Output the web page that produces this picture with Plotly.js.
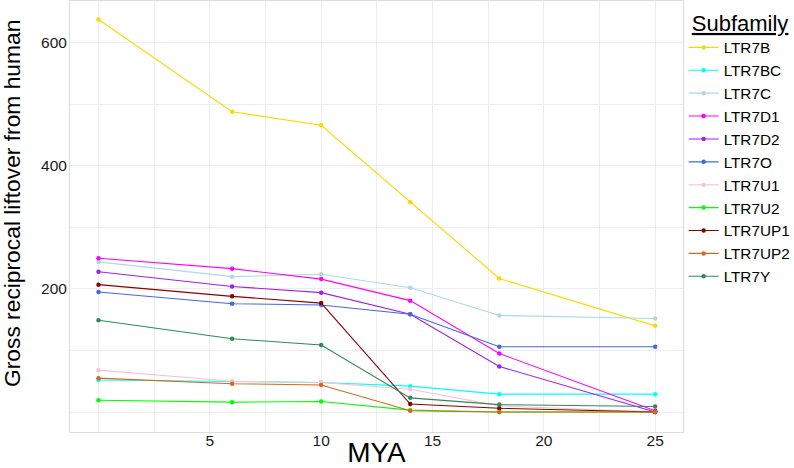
<!DOCTYPE html>
<html>
<head>
<meta charset="utf-8">
<script src="https://cdn.plot.ly/plotly-3.0.1.min.js"></script>
<style>html,body{margin:0;padding:0;background:#fff;}#chart{width:794px;height:468px;}</style>
</head>
<body>
<div id="chart"></div>
<script>
const mya = [0, 6, 10, 14, 18, 25];
const subfamilies = ["LTR7B","LTR7BC","LTR7C","LTR7D1","LTR7D2","LTR7O","LTR7U1","LTR7U2","LTR7UP1","LTR7UP2","LTR7Y"];
const LTR7B   = [638, 488, 466, 341, 217, 140];
const LTR7BC  = [52, 49, 48, 42, 29, 29];
const LTR7C   = [244, 220, 224, 202, 157, 152];
const LTR7D1  = [250, 233, 216, 181, 95, 2];
const LTR7D2  = [228, 204, 194, 159, 74, 0];
const LTR7O   = [195, 176, 174, 159, 106, 106];
const LTR7U1  = [68, 50, 48, 37, 10, 0];
const LTR7U2  = [19, 16, 17, 3, 0, 0];
const LTR7UP1 = [207, 188, 177, 13, 6, 0];
const LTR7UP2 = [55, 46, 44, 2, 0, 0];
const LTR7Y   = [149, 119, 109, 23, 12, 9];
const values = [LTR7B, LTR7BC, LTR7C, LTR7D1, LTR7D2, LTR7O, LTR7U1, LTR7U2, LTR7UP1, LTR7UP2, LTR7Y];
const colors = ["#FFD700","#00FFFF","#ADD8E6","#FF00FF","#A020F0","#4169E1","#FFC0CB","#00FF00","#8B0000","#D2691E","#2E8B57"];
const xTickVals = [0, 2.5, 5, 7.5, 10, 12.5, 15, 17.5, 20, 22.5, 25];
const xTickText = ["", "", "5", "", "10", "", "15", "", "20", "", "25"];
const yTickVals = [0, 100, 200, 300, 400, 500, 600];
const yTickText = ["", "", "200", "", "400", "", "600"];

const traces = subfamilies.map((name, i) => ({
  x: mya, y: values[i], name: name, type: "scatter", mode: "lines+markers",
  line: {color: colors[i], width: 1.1},
  marker: {color: colors[i], size: 4.5}
}));

const font = "Liberation Sans, Arial, sans-serif";
const layout = {
  width: 794, height: 468,
  margin: {l: 70, r: 111, t: 1, b: 36},
  paper_bgcolor: "#fff", plot_bgcolor: "#fff",
  font: {family: font, color: "#1a1a1a", size: 15},
  showlegend: true,
  xaxis: {
    range: [-1.28, 26.25], tickvals: xTickVals, ticktext: xTickText,
    showgrid: true, gridcolor: "#EDEDED", gridwidth: 1, zeroline: false,
    showline: true, mirror: true, linecolor: "#DDDDDD", linewidth: 1,
    ticks: "", tickfont: {size: 15.5, color: "#1a1a1a"}, ticklabelstandoff: -6,
    title: {text: "MYA", font: {size: 28, color: "#000"}, standoff: 21}
  },
  yaxis: {
    range: [-32.5, 668], tickvals: yTickVals, ticktext: yTickText,
    showgrid: true, gridcolor: "#EDEDED", gridwidth: 1, zeroline: false,
    showline: true, mirror: true, linecolor: "#DDDDDD", linewidth: 1,
    ticks: "", tickfont: {size: 15.5, color: "#1a1a1a"}, ticklabelstandoff: -1
  },
  annotations: [{
    text: "Gross reciprocal liftover from human", textangle: -90,
    xref: "paper", yref: "paper", x: -0.0946, y: 0.529,
    xanchor: "center", yanchor: "middle", showarrow: false,
    font: {size: 22.8, color: "#000"}
  }],
  legend: {
    xref: "container", yref: "container",
    x: 0.861, y: 0.995, xanchor: "left", yanchor: "top",
    title: {text: "&nbsp;<u>Subfamily</u>", font: {size: 22, color: "#000"}},
    font: {size: 15.3, color: "#000"}, maxheight: 440,
    bgcolor: "rgba(0,0,0,0)", itemwidth: 30, tracegroupgap: 0
  }
};
Plotly.newPlot("chart", traces, layout, {displayModeBar: false, staticPlot: true});
</script>
</body>
</html>
